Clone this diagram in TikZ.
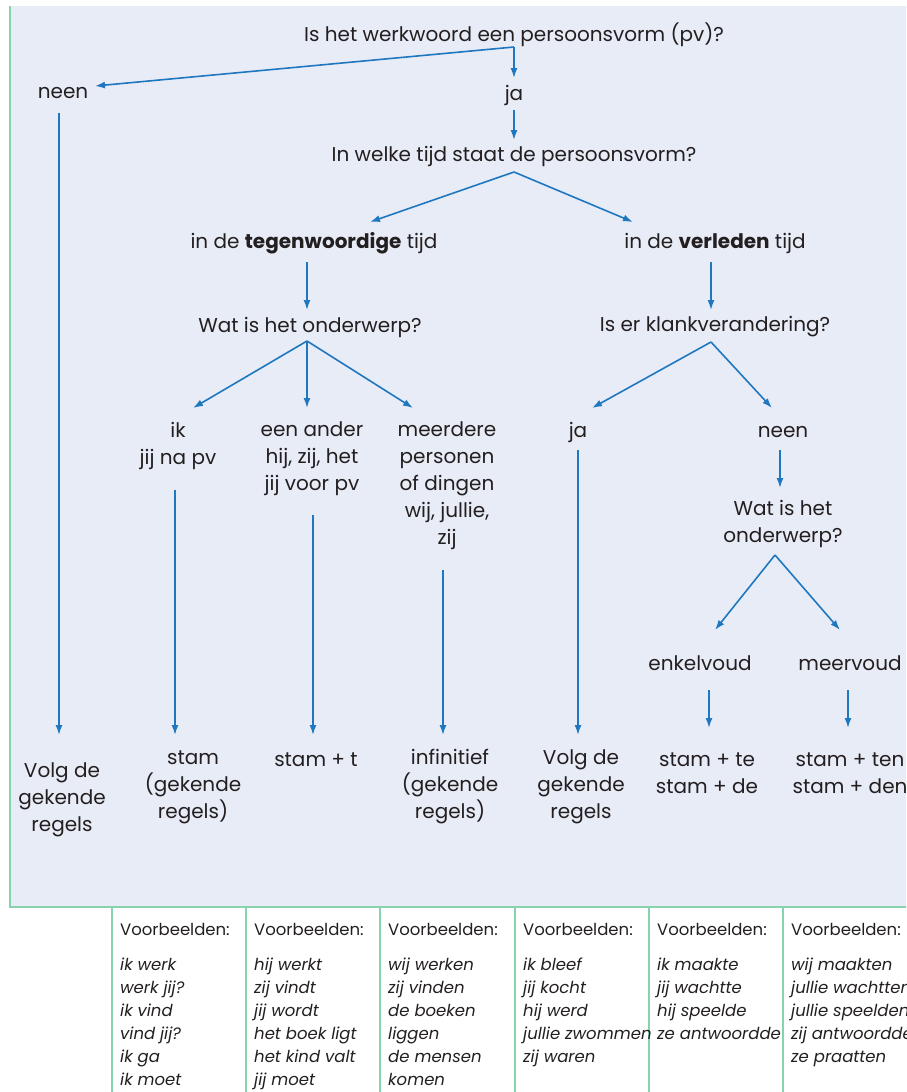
\documentclass[tikz,border=0pt]{standalone}
\usepackage{fontspec}
\setmainfont{Poppins}
\usetikzlibrary{arrows.meta,calc}
\definecolor{bgc}{HTML}{E8ECF7}
\definecolor{framec}{HTML}{86D3AE}
\definecolor{arrc}{HTML}{1F77C0}
\definecolor{ink}{HTML}{231F20}
\begin{document}
\begin{tikzpicture}[x=1pt,y=-1pt,
  lbl/.style={font=\fontsize{20}{27}\selectfont, align=center, inner sep=0pt, text=ink},
  exhead/.style={font=\fontsize{16.5}{23}\selectfont, align=left, inner sep=0pt, text=ink, anchor=west},
  exbody/.style={font=\fontsize{16.5}{23}\selectfont\itshape, align=left, inner sep=0pt, text=ink, anchor=north west},
  conn/.style={draw=arrc, line width=1.6pt, -{Latex[length=10pt,width=7pt]}},
  gridline/.style={draw=framec, line width=1.5pt}]
\useasboundingbox (0,0) rectangle (906,1092);
\clip (0,0) rectangle (906,1092);
\fill[bgc] (10,6) rectangle (930,907);
\draw[gridline] (10,6) -- (10,907) -- (930,907);
\foreach \gx in {112,246,380,515,649,783} {\draw[gridline] (\gx,907) -- (\gx,1100);}

% nodes
\node[lbl] (q1) at (514,35) {Is het werkwoord een persoonsvorm (pv)?};
\node[lbl] (neen1) at (63,93) {neen};
\node[lbl] (ja1) at (514,95) {ja};
\node[lbl] (q2) at (514,156) {In welke tijd staat de persoonsvorm?};
\node[lbl] (teg) at (314,243) {in de \textbf{tegenwoordige} tijd};
\node[lbl] (verl) at (715,243) {in de \textbf{verleden} tijd};
\node[lbl] (q3) at (310,327) {Wat is het onderwerp?};
\node[lbl] (q4) at (715,327) {Is er klankverandering?};
\node[lbl] (ik) at (178,446) {ik\\jij na pv};
\node[lbl] (ander) at (312,459) {een ander\\hij, zij, het\\jij voor pv};
\node[lbl] (meer) at (447,486) {meerdere\\personen\\of dingen\\wij, jullie,\\zij};
\node[lbl] (ja2) at (578,432) {ja};
\node[lbl] (neen2) at (783,432) {neen};
\node[lbl] (q5) at (783,524) {Wat is het\\onderwerp?};
\node[lbl] (enk) at (700,663) {enkelvoud};
\node[lbl] (meerv) at (850,663) {meervoud};
\node[lbl] (r1) at (62,800) {Volg de\\gekende\\regels};
\node[lbl] (r2) at (193,787) {stam\\(gekende\\regels)};
\node[lbl] (r3) at (316,760) {stam + t};
\node[lbl] (r4) at (450,787) {infinitief\\(gekende\\regels)};
\node[lbl] (r5) at (581,787) {Volg de\\gekende\\regels};
\node[lbl] (r6) at (707,773) {stam + te\\stam + de};
\node[lbl] (r7) at (850,773) {stam + ten\\stam + den};

% branch points
\coordinate (b1) at ($(q1)+(0,12)$);
\coordinate (b2) at ($(q2)+(0,16)$);
\coordinate (b3) at ($(q3)+(-3,14)$);
\coordinate (b4) at ($(q4)+(-4,15)$);
\coordinate (b5) at ($(q5)+(-8,31)$);

% connectors
\draw[conn] (b1) -- ($(neen1)+(32,-7)$);
\draw[conn] (b1) -- ($(ja1)+(0,-17)$);
\draw[conn] ($(ja1)+(0,15)$) -- ($(q2)+(0,-16)$);
\draw[conn] (b2) -- ($(teg)+(56,-21)$);
\draw[conn] (b2) -- ($(verl)+(-82,-21)$);
\draw[conn] ($(teg)+(-7,19)$) -- ($(q3)+(-3,-17)$);
\draw[conn] ($(verl)+(-4,19)$) -- ($(q4)+(-4,-17)$);
\draw[conn] (b3) -- ($(ik)+(15,-38)$);
\draw[conn] (b3) -- ($(ander)+(-5,-51)$);
\draw[conn] (b3) -- ($(meer)+(-34,-78)$);
\draw[conn] (b4) -- ($(ja2)+(14,-24)$);
\draw[conn] (b4) -- ($(neen2)+(-11,-24)$);
\draw[conn] ($(neen1)+(-4,20)$) -- ($(r1)+(-3,-65)$);
\draw[conn] ($(ik)+(-3,44)$) -- ($(r2)+(-18,-52)$);
\draw[conn] ($(ander)+(1,56)$) -- ($(r3)+(-3,-25)$);
\draw[conn] ($(meer)+(-4,84)$) -- ($(r4)+(-7,-52)$);
\draw[conn] ($(ja2)+(0,18)$) -- ($(r5)+(-3,-52)$);
\draw[conn] ($(neen2)+(-3,18)$) -- ($(q5)+(-3,-36)$);
\draw[conn] (b5) -- ($(enk)+(15,-33)$);
\draw[conn] (b5) -- ($(meerv)+(-10,-33)$);
\draw[conn] ($(enk)+(9,27)$) -- ($(r6)+(2,-45)$);
\draw[conn] ($(meerv)+(-2,27)$) -- ($(r7)+(-2,-45)$);

% examples table
\foreach \gx/\nm in {120/h1,254/h2,388/h3,523/h4,657/h5,791/h6} {\node[exhead] (\nm) at (\gx,929) {Voorbeelden:};}
\node[exbody] (e1) at ($(h1.west)+(0,29)$) {ik werk\\werk jij?\\ik vind\\vind jij?\\ik ga\\ik moet};
\node[exbody] (e2) at ($(h2.west)+(0,29)$) {hij werkt\\zij vindt\\jij wordt\\het boek ligt\\het kind valt\\jij moet};
\node[exbody] (e3) at ($(h3.west)+(0,29)$) {wij werken\\zij vinden\\de boeken\\liggen\\de mensen\\komen};
\node[exbody] (e4) at ($(h4.west)+(0,29)$) {ik bleef\\jij kocht\\hij werd\\jullie zwommen\\zij waren};
\node[exbody] (e5) at ($(h5.west)+(0,29)$) {ik maakte\\jij wachtte\\hij speelde\\ze antwoordde};
\node[exbody] (e6) at ($(h6.west)+(0,29)$) {wij maakten\\jullie wachtten\\jullie speelden\\zij antwoordden\\ze praatten};
\end{tikzpicture}
\end{document}
